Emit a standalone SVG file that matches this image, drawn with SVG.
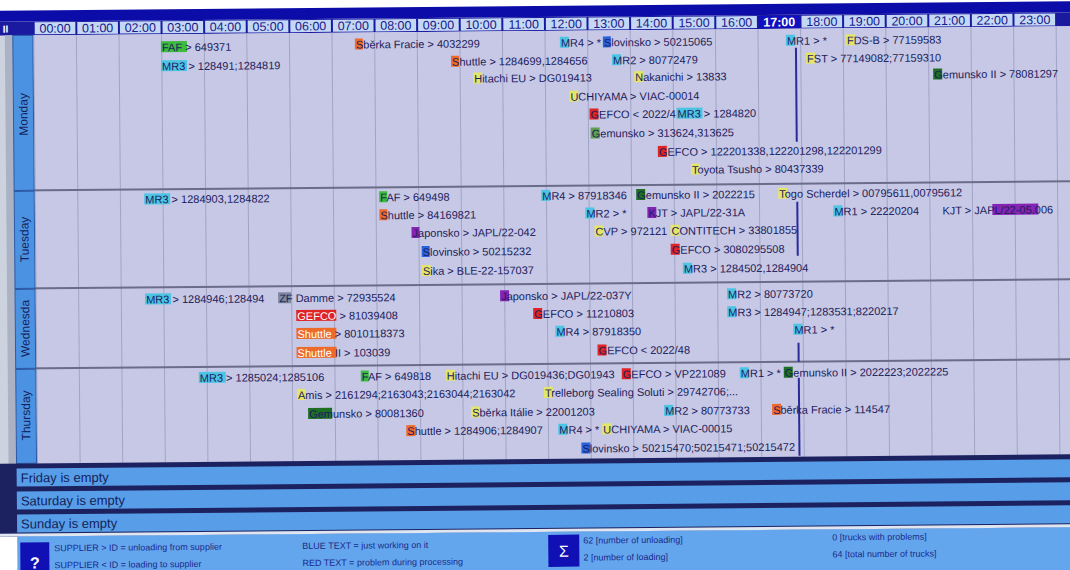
<svg xmlns="http://www.w3.org/2000/svg" width="1070" height="570" viewBox="0 0 1070 570">
<style>
text{font-family:"Liberation Sans",Arial,sans-serif}
.t{font-size:11px;fill:#1c1c5c}
.w{fill:#ffffff}
.h{font-size:12.5px;fill:#1a1a8a;text-anchor:middle}
.hs{font-size:12.5px;fill:#ffffff;font-weight:bold;text-anchor:middle}
.day{font-size:12px;fill:#13235a}
.band{font-size:13px;fill:#13235a}
.lg{font-size:9px;fill:#1a2a8a}
.cy{fill:#4dc4e4}.gr{fill:#3dbb3d}.or{fill:#ee6a2a}.ye{fill:#e4e66a}.bl{fill:#2a62dc}
.pu{fill:#8424b4}.dg{fill:#1e6e24}.lgr{fill:#5e9e4e}.rd{fill:#de2424}.gy{fill:#7e8a9c}
.cell{fill:#c4d8f6}
.vl{stroke:#a2a4c6;stroke-width:1}
.sep{stroke:#6a6c88;stroke-width:2}
.now{stroke:#2a2a9a;stroke-width:2}
</style>
<rect x="0" y="0" width="1070" height="570" fill="#ffffff"/>
<g transform="rotate(-0.5 535 285)">
<!-- title and header -->
<g id="header">
<rect x="-10" y="6" width="1090" height="11" fill="#0c0ca8"/>
<rect x="-10" y="17" width="1090" height="14" fill="#1a1aa0"/>
<text x="5" y="28" font-size="10" font-weight="bold" fill="#ffffff">II</text>
<rect class="cell" x="37" y="18" width="40.6" height="12"/><text class="h" x="57.3" y="28.5">00:00</text>
<rect class="cell" x="79.6" y="18" width="40.6" height="12"/><text class="h" x="99.9" y="28.5">01:00</text>
<rect class="cell" x="122.2" y="18" width="40.6" height="12"/><text class="h" x="142.5" y="28.5">02:00</text>
<rect class="cell" x="164.8" y="18" width="40.6" height="12"/><text class="h" x="185.1" y="28.5">03:00</text>
<rect class="cell" x="207.4" y="18" width="40.6" height="12"/><text class="h" x="227.7" y="28.5">04:00</text>
<rect class="cell" x="250" y="18" width="40.6" height="12"/><text class="h" x="270.3" y="28.5">05:00</text>
<rect class="cell" x="292.6" y="18" width="40.6" height="12"/><text class="h" x="312.9" y="28.5">06:00</text>
<rect class="cell" x="335.2" y="18" width="40.6" height="12"/><text class="h" x="355.5" y="28.5">07:00</text>
<rect class="cell" x="377.8" y="18" width="40.6" height="12"/><text class="h" x="398.1" y="28.5">08:00</text>
<rect class="cell" x="420.4" y="18" width="40.6" height="12"/><text class="h" x="440.7" y="28.5">09:00</text>
<rect class="cell" x="463" y="18" width="40.6" height="12"/><text class="h" x="483.3" y="28.5">10:00</text>
<rect class="cell" x="505.6" y="18" width="40.6" height="12"/><text class="h" x="525.9" y="28.5">11:00</text>
<rect class="cell" x="548.2" y="18" width="40.6" height="12"/><text class="h" x="568.5" y="28.5">12:00</text>
<rect class="cell" x="590.8" y="18" width="40.6" height="12"/><text class="h" x="611.1" y="28.5">13:00</text>
<rect class="cell" x="633.4" y="18" width="40.6" height="12"/><text class="h" x="653.7" y="28.5">14:00</text>
<rect class="cell" x="676" y="18" width="40.6" height="12"/><text class="h" x="696.3" y="28.5">15:00</text>
<rect class="cell" x="718.6" y="18" width="40.6" height="12"/><text class="h" x="738.9" y="28.5">16:00</text>
<rect x="761.2" y="18" width="40.6" height="12" fill="#1010c0"/><text class="hs" x="781.5" y="28.5">17:00</text>
<rect class="cell" x="803.8" y="18" width="40.6" height="12"/><text class="h" x="824.1" y="28.5">18:00</text>
<rect class="cell" x="846.4" y="18" width="40.6" height="12"/><text class="h" x="866.7" y="28.5">19:00</text>
<rect class="cell" x="889" y="18" width="40.6" height="12"/><text class="h" x="909.3" y="28.5">20:00</text>
<rect class="cell" x="931.6" y="18" width="40.6" height="12"/><text class="h" x="951.9" y="28.5">21:00</text>
<rect class="cell" x="974.2" y="18" width="40.6" height="12"/><text class="h" x="994.5" y="28.5">22:00</text>
<rect class="cell" x="1016.8" y="18" width="40.6" height="12"/><text class="h" x="1037.1" y="28.5">23:00</text>
</g>
<!-- grid -->
<g id="grid">
<rect x="-10" y="31" width="25" height="501" fill="#ccd2de"/>
<rect x="7" y="31" width="8" height="501" fill="#aab2c4"/>
<rect x="36" y="31" width="1044" height="430" fill="#c6c8e6"/>
<g class="vl">
<line x1="36" y1="31" x2="36" y2="460"/><line x1="78.6" y1="31" x2="78.6" y2="460"/><line x1="121.2" y1="31" x2="121.2" y2="460"/><line x1="163.8" y1="31" x2="163.8" y2="460"/><line x1="206.4" y1="31" x2="206.4" y2="460"/><line x1="249" y1="31" x2="249" y2="460"/><line x1="291.6" y1="31" x2="291.6" y2="460"/><line x1="334.2" y1="31" x2="334.2" y2="460"/><line x1="376.8" y1="31" x2="376.8" y2="460"/><line x1="419.4" y1="31" x2="419.4" y2="460"/><line x1="462" y1="31" x2="462" y2="460"/><line x1="504.6" y1="31" x2="504.6" y2="460"/><line x1="547.2" y1="31" x2="547.2" y2="460"/><line x1="589.8" y1="31" x2="589.8" y2="460"/><line x1="632.4" y1="31" x2="632.4" y2="460"/><line x1="675" y1="31" x2="675" y2="460"/><line x1="717.6" y1="31" x2="717.6" y2="460"/><line x1="760.2" y1="31" x2="760.2" y2="460"/><line x1="802.8" y1="31" x2="802.8" y2="460"/><line x1="845.4" y1="31" x2="845.4" y2="460"/><line x1="888" y1="31" x2="888" y2="460"/><line x1="930.6" y1="31" x2="930.6" y2="460"/><line x1="973.2" y1="31" x2="973.2" y2="460"/><line x1="1015.8" y1="31" x2="1015.8" y2="460"/><line x1="1058.4" y1="31" x2="1058.4" y2="460"/>
</g>
<g class="sep"><line x1="15" y1="186" x2="1080" y2="186"/><line x1="15" y1="284" x2="1080" y2="284"/><line x1="15" y1="364" x2="1080" y2="364"/></g>
</g>
<!-- day labels -->
<g id="day-monday"><rect x="15" y="31" width="20" height="155" fill="#4c92e2" stroke="#2a5aa8"/><text class="day" transform="translate(29 110) rotate(-90)" text-anchor="middle">Monday</text></g>
<g id="day-tuesday"><rect x="15" y="187" width="20" height="97" fill="#4c92e2" stroke="#2a5aa8"/><text class="day" transform="translate(29 235) rotate(-90)" text-anchor="middle">Tuesday</text></g>
<g id="day-wednesday"><rect x="15" y="285" width="20" height="79" fill="#4c92e2" stroke="#2a5aa8"/><text class="day" transform="translate(29 324) rotate(-90)" text-anchor="middle">Wednesda</text></g>
<g id="day-thursday"><rect x="15" y="365" width="20" height="94" fill="#4c92e2" stroke="#2a5aa8"/><text class="day" transform="translate(29 411) rotate(-90)" text-anchor="middle">Thursday</text></g>
<!-- current time markers -->
<g id="connectors">
<line class="now" x1="798" y1="50" x2="798" y2="144"/>
<line class="now" x1="798" y1="204" x2="798" y2="258"/>
<line class="now" x1="798" y1="345" x2="798" y2="364"/>
<line class="now" x1="798" y1="380" x2="798" y2="458"/>
</g>
<g class="t">
<!-- Monday -->
<g id="mon-faf"><rect class="gr" x="163" y="38" width="26" height="11"/><text x="164" y="48">FAF &gt; 649371</text></g>
<g id="mon-mr3"><rect class="cy" x="163" y="57" width="26" height="11"/><text x="164" y="67">MR3 &gt; 128491;1284819</text></g>
<g id="mon-sberka"><rect class="or" x="357" y="37" width="8" height="11"/><text x="358" y="47">Sběrka Fracie &gt; 4032299</text></g>
<g id="mon-shuttle"><rect class="or" x="453" y="55" width="8" height="11"/><text x="454" y="65">Shuttle &gt; 1284699,1284656</text></g>
<g id="mon-hitachi"><rect class="ye" x="475" y="72" width="9" height="11"/><text x="476" y="82">Hitachi EU &gt; DG019413</text></g>
<g id="mon-mr4"><rect class="cy" x="562" y="37" width="9" height="11"/><text x="563" y="47">MR4 &gt; *</text></g>
<g id="mon-slov"><rect class="bl" x="605" y="37" width="8" height="11"/><text x="606" y="47">Slovinsko &gt; 50215065</text></g>
<g id="mon-mr2"><rect class="cy" x="614" y="55" width="9" height="11"/><text x="615" y="65">MR2 &gt; 80772479</text></g>
<g id="mon-naka"><rect class="ye" x="636" y="72" width="9" height="11"/><text x="637" y="82">Nakanichi &gt; 13833</text></g>
<g id="mon-uchi"><rect class="ye" x="571" y="91" width="9" height="11"/><text x="572" y="101">UCHIYAMA &gt; VIAC-00014</text></g>
<g id="mon-gefco1"><rect class="rd" x="591" y="109" width="9" height="11"/><text x="592" y="119">GEFCO &lt; 2022/4</text></g>
<g id="mon-mr3b"><rect class="cy" x="678" y="109" width="26" height="11"/><text x="679" y="119">MR3 &gt; 1284820</text></g>
<g id="mon-gem"><rect class="lgr" x="592" y="128" width="9" height="11"/><text x="593" y="138">Gemunsko &gt; 313624,313625</text></g>
<g id="mon-gefco2"><rect class="rd" x="659" y="147" width="9" height="11"/><text x="660" y="157">GEFCO &gt; 122201338,122201298,122201299</text></g>
<g id="mon-toyota"><rect class="ye" x="692" y="165" width="9" height="11"/><text x="693" y="175">Toyota Tsusho &gt; 80437339</text></g>
<g id="mon-mr1"><rect class="cy" x="788" y="37" width="9" height="11"/><text x="789" y="47">MR1 &gt; *</text></g>
<g id="mon-fdsb"><rect class="ye" x="848" y="37" width="9" height="11"/><text x="849" y="47">FDS-B &gt; 77159583</text></g>
<g id="mon-fst"><rect class="ye" x="808" y="55" width="9" height="11"/><text x="809" y="65">FST &gt; 77149082;77159310</text></g>
<g id="mon-gem2"><rect class="dg" x="935" y="72" width="9" height="11"/><text x="936" y="82">Gemunsko II &gt; 78081297</text></g>
<!-- Tuesday -->
<g id="tue-mr3"><rect class="cy" x="145" y="190" width="26" height="11"/><text x="146" y="200">MR3 &gt; 1284903,1284822</text></g>
<g id="tue-faf"><rect class="gr" x="380" y="190" width="8" height="11"/><text x="381" y="200">FAF &gt; 649498</text></g>
<g id="tue-shuttle"><rect class="or" x="380" y="208" width="8" height="11"/><text x="381" y="218">Shuttle &gt; 84169821</text></g>
<g id="tue-jap"><rect class="pu" x="412" y="226" width="8" height="11"/><text x="413" y="236">Japonsko &gt; JAPL/22-042</text></g>
<g id="tue-slov"><rect class="bl" x="422" y="245" width="8" height="11"/><text x="423" y="255">Slovinsko &gt; 50215232</text></g>
<g id="tue-sika"><rect class="ye" x="422" y="264" width="9" height="11"/><text x="423" y="274">Sika &gt; BLE-22-157037</text></g>
<g id="tue-mr4"><rect class="cy" x="542" y="190" width="9" height="11"/><text x="543" y="200">MR4 &gt; 87918346</text></g>
<g id="tue-gem2"><rect class="dg" x="637" y="190" width="9" height="11"/><text x="638" y="200">Gemunsko II &gt; 2022215</text></g>
<g id="tue-togo"><rect class="ye" x="779" y="190" width="9" height="11"/><text x="780" y="200">Togo Scherdel &gt; 00795611,00795612</text></g>
<g id="tue-mr2"><rect class="cy" x="586" y="208" width="9" height="11"/><text x="587" y="218">MR2 &gt; *</text></g>
<g id="tue-kjt"><rect class="pu" x="648" y="208" width="9" height="11"/><text x="649" y="218">KJT &gt; JAPL/22-31A</text></g>
<g id="tue-cvp"><rect class="ye" x="595" y="226" width="9" height="11"/><text x="596" y="236">CVP &gt; 972121</text></g>
<g id="tue-conti"><rect class="ye" x="671" y="226" width="9" height="11"/><text x="672" y="236">CONTITECH &gt; 33801855</text></g>
<g id="tue-gefco"><rect class="rd" x="671" y="245" width="9" height="11"/><text x="672" y="255">GEFCO &gt; 3080295508</text></g>
<g id="tue-mr3b"><rect class="cy" x="683" y="264" width="9" height="11"/><text x="684" y="274">MR3 &gt; 1284502,1284904</text></g>
<g id="tue-mr1"><rect class="cy" x="834" y="208" width="9" height="11"/><text x="835" y="218">MR1 &gt; 22220204</text></g>
<g id="tue-kjt2"><rect class="pu" x="993" y="208" width="46" height="11"/><text x="943" y="218">KJT &gt; JAPL/22-05.006</text></g>
<!-- Wednesday -->
<g id="wed-mr3"><rect class="cy" x="145" y="290" width="26" height="11"/><text x="146" y="300">MR3 &gt; 1284946;128494</text></g>
<g id="wed-zf"><rect class="gy" x="278" y="290" width="13" height="11"/><text x="279" y="300">ZF Damme &gt; 72935524</text></g>
<g id="wed-gefco"><rect class="rd" x="296" y="308" width="40" height="11"/><text x="297" y="318"><tspan class="w">GEFCO</tspan> &gt; 81039408</text></g>
<g id="wed-shuttle"><rect class="or" x="296" y="326" width="40" height="11"/><text x="297" y="336"><tspan class="w">Shuttle</tspan> &gt; 8010118373</text></g>
<g id="wed-shuttle2"><rect class="or" x="296" y="345" width="40" height="11"/><text x="297" y="355"><tspan class="w">Shuttle</tspan> II &gt; 103039</text></g>
<g id="wed-jap"><rect class="pu" x="500" y="290" width="9" height="11"/><text x="501" y="300">Japonsko &gt; JAPL/22-037Y</text></g>
<g id="wed-gefco2"><rect class="rd" x="533" y="308" width="9" height="11"/><text x="534" y="318">GEFCO &gt; 11210803</text></g>
<g id="wed-mr4"><rect class="cy" x="555" y="326" width="9" height="11"/><text x="556" y="336">MR4 &gt; 87918350</text></g>
<g id="wed-gefco3"><rect class="rd" x="597" y="345" width="9" height="11"/><text x="598" y="355">GEFCO &lt; 2022/48</text></g>
<g id="wed-mr2"><rect class="cy" x="727" y="290" width="9" height="11"/><text x="728" y="300">MR2 &gt; 80773720</text></g>
<g id="wed-mr3b"><rect class="cy" x="727" y="308" width="9" height="11"/><text x="728" y="318">MR3 &gt; 1284947;1283531;8220217</text></g>
<g id="wed-mr1"><rect class="cy" x="793" y="326" width="9" height="11"/><text x="794" y="336">MR1 &gt; *</text></g>
<!-- Thursday -->
<g id="thu-mr3"><rect class="cy" x="198" y="369" width="27" height="11"/><text x="199" y="379">MR3 &gt; 1285024;1285106</text></g>
<g id="thu-faf"><rect class="gr" x="360" y="369" width="8" height="11"/><text x="361" y="379">FAF &gt; 649818</text></g>
<g id="thu-hitachi"><rect class="ye" x="445" y="369" width="9" height="11"/><text x="446" y="379">Hitachi EU &gt; DG019436;DG01943</text></g>
<g id="thu-gefco"><rect class="rd" x="621" y="369" width="9" height="11"/><text x="622" y="379">GEFCO &gt; VP221089</text></g>
<g id="thu-mr1"><rect class="cy" x="739" y="369" width="9" height="11"/><text x="740" y="379">MR1 &gt; *</text></g>
<g id="thu-gem2"><rect class="dg" x="783" y="369" width="9" height="11"/><text x="784" y="379">Gemunsko II &gt; 2022223;2022225</text></g>
<g id="thu-amis"><rect class="ye" x="296" y="387" width="9" height="11"/><text x="297" y="397">Amis &gt; 2161294;2163043;2163044;2163042</text></g>
<g id="thu-trell"><rect class="ye" x="543" y="387" width="9" height="11"/><text x="544" y="397">Trelleborg Sealing Soluti &gt; 29742706;...</text></g>
<g id="thu-gem"><rect class="dg" x="307" y="406" width="24" height="11"/><text x="308" y="416">Gemunsko &gt; 80081360</text></g>
<g id="thu-sberka"><rect class="ye" x="470" y="406" width="9" height="11"/><text x="471" y="416">Sběrka Itálie &gt; 22001203</text></g>
<g id="thu-mr2"><rect class="cy" x="663" y="406" width="9" height="11"/><text x="664" y="416">MR2 &gt; 80773733</text></g>
<g id="thu-sberka2"><rect class="or" x="771" y="406" width="9" height="11"/><text x="772" y="416">Sběrka Fracie &gt; 114547</text></g>
<g id="thu-shuttle"><rect class="or" x="405" y="424" width="9" height="11"/><text x="406" y="434">Shuttle &gt; 1284906;1284907</text></g>
<g id="thu-mr4"><rect class="cy" x="557" y="424" width="9" height="11"/><text x="558" y="434">MR4 &gt; *</text></g>
<g id="thu-uchi"><rect class="ye" x="601" y="424" width="9" height="11"/><text x="602" y="434">UCHIYAMA &gt; VIAC-00015</text></g>
<g id="thu-slov"><rect class="bl" x="580" y="443" width="9" height="11"/><text x="581" y="453">Slovinsko &gt; 50215470;50215471;50215472</text></g>
</g>
<!-- empty days -->
<g id="empty-days">
<rect x="-10" y="459" width="1090" height="73" fill="#1c2260"/>
<rect x="15" y="464" width="1065" height="18" fill="#579de8"/>
<rect x="15" y="487" width="1065" height="18" fill="#579de8"/>
<rect x="15" y="510" width="1065" height="18" fill="#579de8"/>
<rect x="-10" y="529" width="1090" height="3" fill="#dfe6f2"/>
<text class="band" x="19" y="478">Friday is empty</text>
<text class="band" x="19" y="501">Saturday is empty</text>
<text class="band" x="19" y="524">Sunday is empty</text>
</g>
<!-- legend -->
<g id="legend">
<rect x="15" y="532" width="1065" height="50" fill="#64a6ee"/>
<rect x="18" y="538" width="29" height="40" fill="#1010b4"/>
<text x="32.5" y="564" font-size="16" font-weight="bold" fill="#ffffff" text-anchor="middle">?</text>
<text class="lg" x="52" y="547">SUPPLIER &gt; ID = unloading from supplier</text>
<text class="lg" x="52" y="564">SUPPLIER &lt; ID = loading to supplier</text>
<text class="lg" x="300" y="547">BLUE TEXT = just working on it</text>
<text class="lg" x="300" y="564">RED TEXT = problem during processing</text>
<rect x="546" y="535" width="31" height="32" fill="#1010b4"/>
<text x="561.5" y="557" font-size="16" fill="#ffffff" text-anchor="middle">Σ</text>
<text class="lg" x="581" y="544">62 [number of unloading]</text>
<text class="lg" x="581" y="561">2 [number of loading]</text>
<text class="lg" x="830" y="543">0 [trucks with problems]</text>
<text class="lg" x="830" y="560">64 [total number of trucks]</text>
</g>
</g>
</svg>
